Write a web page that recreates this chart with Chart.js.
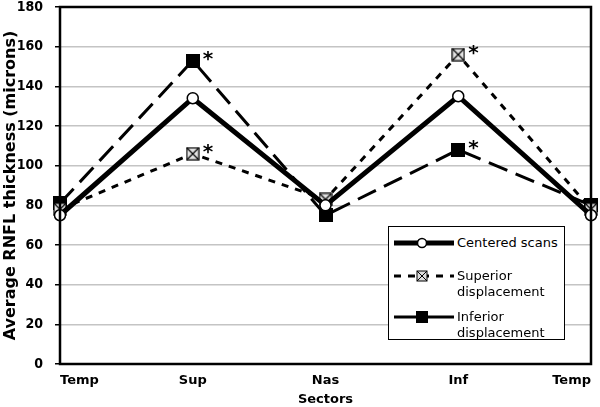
<!DOCTYPE html>
<html>
<head>
<meta charset="utf-8">
<script src="https://cdn.jsdelivr.net/npm/chart.js@4/dist/chart.umd.min.js"></script>
<style>
  body { margin: 0; background: #fff; }
  #wrap { position: relative; width: 600px; height: 407px; }
  #legend {
    position: absolute; left: 388px; top: 226px; width: 175px; height: 112px;
    border: 1.5px solid #000; background: #fff;
    font-family: "DejaVu Sans", Verdana, sans-serif; font-size: 13px; color: #000;
  }
  .item { position: absolute; left: 5px; display: flex; align-items: flex-start; }
  .item svg { flex: none; margin-right: 3px; }
  .item span { line-height: 16px; }
</style>
</head>
<body>
<div id="wrap">
  <canvas id="chartJSContainer" width="600" height="407"></canvas>
  <div id="legend">
    <div class="item" style="top:8px">
      <svg width="60" height="16"><line x1="0" y1="8" x2="60" y2="8" stroke="#000" stroke-width="5"/><circle cx="28" cy="8" r="4.5" fill="#fff" stroke="#000" stroke-width="1.5"/></svg>
      <span>Centered scans</span>
    </div>
    <div class="item" style="top:41px">
      <svg width="60" height="16"><line x1="0" y1="8" x2="60" y2="8" stroke="#000" stroke-width="3" stroke-dasharray="7,7"/><rect x="23" y="3" width="10" height="10" fill="#ddd" stroke="#000" stroke-width="1"/><line x1="23" y1="3" x2="33" y2="13" stroke="#000"/><line x1="33" y1="3" x2="23" y2="13" stroke="#000"/></svg>
      <span>Superior<br>displacement</span>
    </div>
    <div class="item" style="top:82px">
      <svg width="60" height="16"><line x1="0" y1="8" x2="60" y2="8" stroke="#000" stroke-width="3"/><rect x="22" y="2" width="12" height="12" fill="#000"/></svg>
      <span>Inferior<br>displacement</span>
    </div>
  </div>
</div>
<script>
var sectors = ['Temp', 'Sup', 'Nas', 'Inf', 'Temp'];
var centeredScans = [75, 134, 80, 135, 75];
var superiorDisplacement = [78, 106, 83, 156, 78];
var inferiorDisplacement = [81, 153, 75, 108, 80];
// points that carry a significance asterisk (dataset index, point index)
var starredPoints = [[1, 1], [1, 3], [2, 1], [2, 3]];

function makeMarker(kind) {
    var c = document.createElement('canvas');
    c.width = 14; c.height = 14;
    var g = c.getContext('2d');
    if (kind === 'xbox') {
        g.fillStyle = '#e2e2e2';
        g.fillRect(1, 1, 12, 12);
        g.strokeStyle = '#000';
        g.lineWidth = 1.2;
        g.strokeRect(1, 1, 12, 12);
        g.beginPath();
        g.moveTo(1, 1); g.lineTo(13, 13);
        g.moveTo(13, 1); g.lineTo(1, 13);
        g.stroke();
    } else {
        g.fillStyle = '#000';
        g.fillRect(0, 0, 14, 14);
    }
    return c;
}

var frameAndStars = {
    id: 'frameAndStars',
    afterDatasetsDraw: function (chart) {
        var ctx = chart.ctx;
        var a = chart.chartArea;
        ctx.save();
        ctx.strokeStyle = '#000';
        ctx.lineWidth = 2.5;
        ctx.strokeRect(a.left, a.top, a.right - a.left, a.bottom - a.top);
        ctx.fillStyle = '#000';
        ctx.font = 'bold 20px "DejaVu Sans", sans-serif';
        ctx.textAlign = 'left';
        ctx.textBaseline = 'middle';
        starredPoints.forEach(function (p) {
            var el = chart.getDatasetMeta(p[0]).data[p[1]];
            ctx.fillText('*', el.x + 10, el.y - 1);
        });
        ctx.restore();
    }
};

var options = {
    type: 'line',
    data: {
        labels: sectors,
        datasets: [
            {
                label: 'Centered scans',
                data: centeredScans,
                borderColor: '#000',
                borderWidth: 5,
                tension: 0,
                pointRadius: 5.5,
                pointBorderWidth: 1.5,
                pointBackgroundColor: '#fff',
                pointBorderColor: '#000',
                clip: false
            },
            {
                label: 'Superior displacement',
                data: superiorDisplacement,
                borderColor: '#000',
                borderWidth: 3,
                borderDash: [7, 7],
                tension: 0,
                pointStyle: makeMarker('xbox'),
                clip: false
            },
            {
                label: 'Inferior displacement',
                data: inferiorDisplacement,
                borderColor: '#000',
                borderWidth: 3,
                borderDash: [20, 9],
                tension: 0,
                pointStyle: makeMarker('square'),
                clip: false
            }
        ]
    },
    options: {
        responsive: false,
        animation: false,
        layout: { padding: { top: 0, right: 7, left: 0, bottom: 0 } },
        plugins: {
            legend: { display: false },
            tooltip: { enabled: false }
        },
        scales: {
            x: {
                offset: false,
                grid: { display: false, drawTicks: false },
                border: { display: false },
                ticks: {
                    color: '#000',
                    font: { family: 'DejaVu Sans', size: 13, weight: 'bold' },
                    padding: 9,
                    align: 'inner',
                    maxRotation: 0
                },
                title: {
                    display: true,
                    text: 'Sectors',
                    color: '#000',
                    font: { family: 'DejaVu Sans', size: 13, weight: 'bold' },
                    padding: { top: 4, bottom: 0 }
                },
                afterFit: function (scale) {
                    scale.height = 43;
                }
            },
            y: {
                min: 0,
                max: 180,
                grid: { color: '#c4c4c4', lineWidth: 1.5, tickColor: '#000', tickLength: 5 },
                border: { display: false },
                ticks: {
                    stepSize: 20,
                    color: '#000',
                    font: { family: 'DejaVu Sans Condensed', size: 14, weight: 'bold' },
                    padding: 12
                },
                title: {
                    display: true,
                    text: 'Average RNFL thickness (microns)',
                    color: '#000',
                    font: { family: 'DejaVu Sans', size: 16, weight: 'bold' },
                    padding: { top: 1, bottom: 0 }
                },
                afterFit: function (scale) {
                    scale.width = 60;
                    scale.paddingTop = 6;
                    scale.paddingBottom = 6;
                }
            }
        }
    },
    plugins: [frameAndStars]
};

var ctx = document.getElementById('chartJSContainer').getContext('2d');
new Chart(ctx, options);
</script>
</body>
</html>
